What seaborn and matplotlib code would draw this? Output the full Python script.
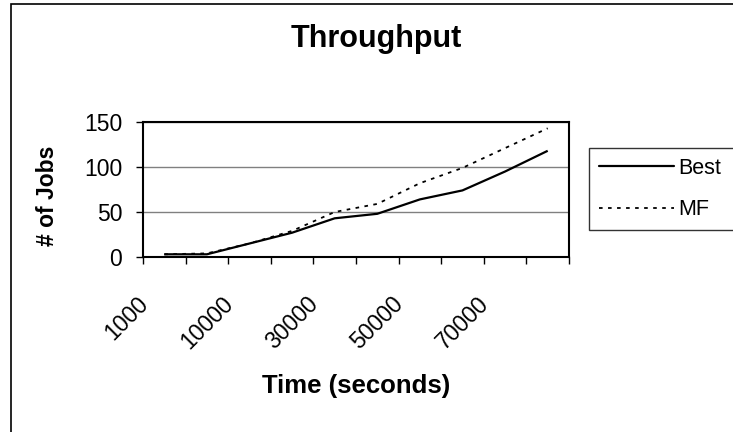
import matplotlib
matplotlib.use("Agg")
import matplotlib.pyplot as plt
from matplotlib.patches import Rectangle
from matplotlib.transforms import ScaledTranslation
from matplotlib.ticker import FixedLocator
import seaborn as sns
import pandas as pd

# Simulation time checkpoints (seconds) and completed job counts
times = ["1000", "5000", "10000", "20000", "30000", "40000", "50000", "60000", "70000", "80000"]
best_jobs = [3, 3, 15, 27, 43, 48, 64, 74, 95, 118]
mf_jobs = [3, 4, 15, 29, 50, 59, 82, 99, 121, 143]
series_names = ["Best", "MF"]
y_ticks = [0, 50, 100, 150]

df = pd.DataFrame({
    "time": times * 2,
    "jobs": best_jobs + mf_jobs,
    "policy": [series_names[0]] * len(times) + [series_names[1]] * len(times),
})

sns.set_style("white")
plt.rcParams["font.family"] = ["Liberation Sans", "DejaVu Sans"]
plt.rcParams.update({
    "text.color": "black",
    "axes.labelcolor": "black",
    "xtick.color": "black",
    "ytick.color": "black",
})

W, H = 733, 432
fig = plt.figure(figsize=(W / 100, H / 100), dpi=100)
ax = fig.add_axes([143 / W, 1 - 257 / H, 426 / W, 135 / H])

sns.lineplot(
    data=df, x="time", y="jobs", hue="policy", style="policy",
    palette={"Best": "black", "MF": "black"},
    dashes={"Best": "", "MF": (2, 3)},
    sort=False, ax=ax, legend=False,
)
for line in ax.lines:
    line.set_solid_capstyle("butt")
ax.lines[0].set_linewidth(1.6)
ax.lines[1].set_linewidth(1.3)

ax.set_xlim(-0.5, len(times) - 0.5)
ax.set_ylim(0, 150)
ax.set_yticks(y_ticks)
ax.yaxis.grid(True, color="#808080", linewidth=1.0)
ax.set_axisbelow(True)

# category labels every other tick, tick marks on category boundaries
ax.xaxis.set_major_locator(FixedLocator(list(range(len(times)))))
ax.set_xticklabels([t if i % 2 == 0 else "" for i, t in enumerate(times)])
ax.xaxis.set_minor_locator(FixedLocator([i - 0.5 for i in range(len(times) + 1)]))
ax.tick_params(axis="x", which="major", length=0, pad=31.5, labelsize=16.5)
ax.tick_params(axis="x", which="minor", length=5, width=1.0, color="black", direction="out", bottom=True)
ax.tick_params(axis="y", length=5, width=1.0, color="black", direction="out", left=True, pad=10, labelsize=16.5)
shift = ScaledTranslation(-20 / 100, 0, fig.dpi_scale_trans)
for lab in ax.get_xticklabels():
    lab.set_rotation(45)
    lab.set_ha("right")
    lab.set_va("center")
    lab.set_rotation_mode("anchor")
    lab.set_transform(lab.get_transform() + shift)

for side in ["left", "right", "top", "bottom"]:
    ax.spines[side].set_visible(True)
    ax.spines[side].set_color("black")
    ax.spines[side].set_linewidth(1.5)

ax.set_xlabel("Time (seconds)", fontsize=18.5, fontweight="bold")
ax.xaxis.label.set_va("baseline")
ax.xaxis.set_label_coords(0.5, (257 - 393) / 135)
ax.set_ylabel("# of Jobs", fontsize=16.5, fontweight="bold")
ax.yaxis.label.set_va("center")
ax.yaxis.set_label_coords((48 - 143) / 426, (257 - 196) / 135)

fig.text(376 / W, 1 - 47 / H, "Throughput", fontsize=22, fontweight="bold",
         ha="center", va="baseline")

handles = [
    plt.Line2D([], [], color="black", linewidth=1.6),
    plt.Line2D([], [], color="black", linewidth=1.3, dashes=(2, 3)),
]
leg = fig.legend(handles, series_names, loc="upper left", mode="expand",
                 bbox_to_anchor=(589 / W, 1 - 148 / H, 0.3, 0),
                 frameon=True, fancybox=False, shadow=False, fontsize=15.5,
                 handlelength=3.5, handletextpad=0.2, labelspacing=0.95,
                 borderpad=0.45, borderaxespad=0)
leg.get_frame().set_edgecolor("black")
leg.get_frame().set_linewidth(1.0)

# chart area border
fig.add_artist(Rectangle((11 / W, -0.2), 1.2, 1.2 - 4 / H, transform=fig.transFigure,
                         fill=False, edgecolor="black", linewidth=1.2))

fig.savefig("out.png", dpi=100)
